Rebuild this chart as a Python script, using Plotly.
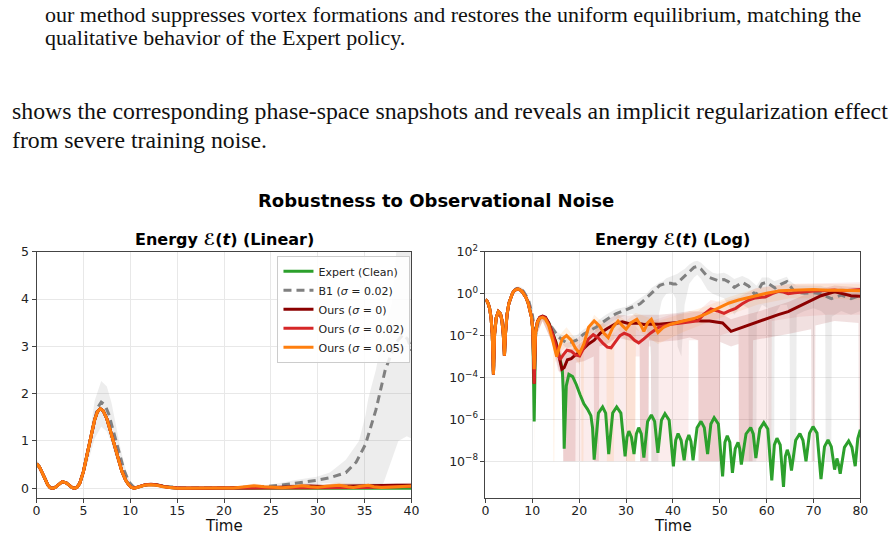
import plotly.graph_objects as go

# ---------------- data ----------------
# shared early transient (all methods identical until t ~ 10)
t_early = [0, 0.3, 0.6, 0.9, 1.2, 1.45, 1.7, 1.95, 2.3, 2.75, 3.2, 3.5, 3.8, 4.05, 4.3, 4.6,
           5.0, 5.4, 5.8, 6.2, 6.5, 6.8, 7.1, 7.5, 7.9, 8.3, 8.7, 9.1, 9.5, 9.8, 10.1]
e_early = [0.52, 0.45, 0.33, 0.19, 0.07, 0.012, 1.4e-4, 0.012, 0.07, 0.14, 0.11, 0.055, 0.012, 1.1e-3, 0.015, 0.1,
           0.35, 0.72, 1.1, 1.45, 1.62, 1.68, 1.64, 1.47, 1.2, 0.9, 0.62, 0.36, 0.17, 0.08, 0.02]

# Expert (Clean)
t_expert = [10.4, 10.7, 11.1, 11.6, 12.2, 12.8, 13.5, 14.2, 15.0, 15.7, 16.1, 16.4, 16.6, 16.8, 17.25, 17.8,
            18.6, 19.4, 20.2, 21.0, 21.8, 22.5, 22.85, 23.2, 24.1, 25.0, 25.65, 26.3, 27.15, 28.0, 28.9, 29.8,
            30.2, 30.6, 31.15, 31.7, 32.2, 32.7, 33.25, 33.8, 34.6, 35.4, 36.1, 36.8, 37.55, 38.3, 39.2, 40.1,
            40.6, 41.1, 41.75, 42.4, 42.9, 43.4, 43.85, 44.3, 45.15, 46.0, 46.7, 47.4, 48.1, 48.8, 49.7, 50.6,
            51.1, 51.6, 52.15, 52.7, 53.3, 53.9, 54.25, 54.6, 55.6, 56.6, 57.15, 57.7, 58.55, 59.4, 60.25, 61.1,
            61.65, 62.2, 62.9, 63.6, 64.0, 64.4, 64.85, 65.3, 66.2, 67.1, 67.75, 68.4, 69.15, 69.9, 70.75, 71.6,
            72.35, 73.1, 73.8, 74.5, 74.75, 75.0, 75.35, 75.7, 76.6, 77.5, 78.2, 78.9, 79.45, 80.0]
v_expert = [8e-7, 0.015, 0.045, 0.07, 0.08, 0.07, 0.04, 0.016, 0.005, 1.2e-3, 5e-4, 2.5e-4, 2e-5, 4e-8, 4e-5, 1.4e-4,
            1.1e-4, 4.5e-5, 1.5e-5, 5.5e-6, 3e-6, 1.5e-6, 4e-7, 1.2e-8, 2e-6, 3.9e-6, 2e-6, 2.2e-8, 2e-6, 3.9e-6, 2e-6, 1.7e-8,
            1.4e-7, 2.75e-7, 1.4e-7, 2.2e-8, 2e-7, 4e-7, 2e-7, 1.5e-8, 8e-7, 1.6e-6, 8e-7, 2.5e-8, 9e-7, 1.85e-6, 9e-7, 5.7e-9,
            1e-7, 2.1e-7, 1e-7, 1.1e-8, 9e-8, 1.8e-7, 9e-8, 1.1e-8, 4e-7, 8e-7, 4e-7, 2.2e-8, 6e-7, 1.2e-6, 6e-7, 1.9e-9,
            8e-8, 1.65e-7, 8e-8, 2.8e-9, 4e-8, 8e-8, 4e-8, 6.9e-9, 2e-7, 4e-7, 2e-7, 1.4e-8, 3.5e-7, 7e-7, 3.5e-7, 1.2e-9,
            6e-8, 1.25e-7, 6e-8, 6e-10, 1.7e-8, 3.5e-8, 1.7e-8, 3.6e-9, 1e-7, 2.1e-7, 1e-7, 1e-8, 2.2e-7, 4.5e-7, 2.2e-7, 1.4e-9,
            5e-8, 1.05e-7, 5e-8, 4e-9, 7e-9, 1.35e-8, 7e-9, 2.5e-9, 4.6e-8, 9.3e-8, 4.6e-8, 5.8e-9, 1.2e-7, 3.2e-7]

# B1 (sigma = 0.02)
t_b1 = [0, 0.3, 0.6, 0.9, 1.2, 1.45, 1.7, 1.95, 2.3, 2.75, 3.2, 3.5, 3.8, 4.05, 4.3, 4.6, 5.0, 5.4, 5.8, 6.2,
        6.5, 6.9, 7.3, 7.7, 8.1, 8.5, 8.9, 9.3, 9.7, 10.0, 10.3, 10.5, 10.8, 11.3, 12.0, 12.6, 13.5, 14.5, 15.5,
        16.5, 17.3, 18.5, 19.4, 21.0, 23.6, 25.7, 27.8, 29.9, 31.3, 33.0, 34.1, 35.1, 36.2, 37.2, 38.3, 39.1,
        39.6, 40.0, 40.7, 41.5, 42.5, 43.5, 44.5, 45.2, 46.0, 47.4, 48.5, 49.5, 50.9, 51.8, 53.1, 54.8, 56.2,
        57.6, 59.0, 60.0, 61.8, 63.0, 64.3, 65.2, 66.0, 68.1, 70.0, 71.6, 73.8, 75.9, 78.0, 80.0]
v_b1 = [0.52, 0.45, 0.33, 0.19, 0.07, 0.012, 1.4e-4, 0.012, 0.07, 0.14, 0.11, 0.055, 0.012, 1.1e-3, 0.015, 0.1, 0.35, 0.72, 1.1, 1.48,
        1.7, 1.82, 1.76, 1.57, 1.28, 0.96, 0.66, 0.4, 0.2, 0.1, 0.035, 3e-3, 0.015, 0.05, 0.075, 0.07, 0.04, 0.02, 9e-3,
        6e-3, 4.5e-3, 5e-3, 6e-3, 0.012, 0.025, 0.056, 0.11, 0.166, 0.22, 0.33, 0.55, 0.93, 1.65, 2.5, 3.07, 3.25,
        3.15, 2.93, 2.9, 4.3, 7.2, 12, 18, 20, 15, 6.5, 5, 4.3, 4.8, 3.8, 2.0, 3.5, 2.3,
        0.83, 3.0, 3.5, 1.9, 2.8, 3.8, 2.2, 1.2, 1.05, 1.1, 1.0, 0.58, 0.85, 0.58, 0.83]

# Ours (sigma = 0)
t_ours0 = [10.4, 10.7, 11.1, 11.6, 12.2, 12.8, 13.5, 14.2, 15.0, 15.7, 16.3, 16.8, 17.5, 18.3, 19.2, 20.1, 21.0,
           22.0, 23.2, 24.5, 26.0, 28.0, 29.2, 30.5, 32.4, 33.8, 35.2, 37.0, 38.7, 41.0, 43.6, 46.0, 47.8, 50.6,
           52.4, 54.8, 57.6, 60.4, 62.5, 64.6, 66.5, 68.1, 70.0, 71.6, 73.0, 74.5, 75.5, 76.6, 78.0, 80.0]
v_ours0 = [5e-5, 0.016, 0.048, 0.075, 0.085, 0.075, 0.04, 0.015, 0.005, 1e-3, 2.5e-4, 3e-4, 7e-4, 8e-4, 1.2e-3, 1.6e-3, 2.5e-3,
           4e-3, 6e-3, 0.013, 0.022, 0.039, 0.045, 0.038, 0.04, 0.034, 0.036, 0.035, 0.038, 0.042, 0.056, 0.05, 0.05, 0.04,
           0.016, 0.025, 0.04, 0.066, 0.1, 0.14, 0.22, 0.34, 0.5, 0.8, 1.0, 1.25, 1.1, 0.95, 0.8, 0.75]

# Ours (sigma = 0.02)
t_ours2 = [10.4, 10.7, 11.1, 11.6, 12.2, 12.8, 13.5, 14.3, 15.2, 15.9, 16.6, 17.4, 18.3, 19.2, 20.1, 21.0, 22.0,
           23.0, 24.0, 25.0, 26.0, 26.8, 27.8, 28.7, 29.6, 30.8, 31.8, 32.7, 33.8, 35.2, 37.0, 39.5, 41.8, 44.0,
           45.3, 46.5, 48.1, 49.5, 50.9, 52.0, 53.4, 54.8, 56.2, 57.6, 59.7, 61.2, 62.5, 63.6, 64.6, 66.0, 67.4,
           69.0, 70.2, 71.6, 73.0, 74.5, 75.9, 77.3, 78.7, 80.0]
v_ours2 = [5e-5, 0.015, 0.046, 0.072, 0.08, 0.07, 0.035, 0.012, 2.5e-3, 7e-4, 1.2e-3, 2e-3, 1.8e-3, 1.2e-3, 1.05e-3, 2.5e-3, 7e-3,
           0.011, 8e-3, 4.5e-3, 2.8e-3, 2.6e-3, 5e-3, 0.01, 0.013, 0.01, 6e-3, 4.5e-3, 7e-3, 0.013, 0.025, 0.035, 0.04, 0.045,
           0.05, 0.1, 0.19, 0.15, 0.115, 0.15, 0.2, 0.33, 0.5, 0.63, 0.7, 1.0, 1.3, 1.2, 1.0, 1.1, 1.2,
           1.25, 1.35, 1.4, 1.45, 1.5, 1.35, 1.45, 1.45, 1.6]

# Ours (sigma = 0.05)
t_ours5 = [10.4, 10.7, 11.1, 11.6, 12.2, 12.8, 13.5, 14.2, 14.8, 15.2, 15.7, 16.4, 17.3, 18.3, 19.2, 20.1, 21.0,
           22.0, 23.2, 24.3, 25.3, 26.2, 27.2, 28.3, 29.2, 30.0, 31.0, 32.3, 33.2, 33.8, 34.6, 35.4, 36.0, 36.8,
           38.0, 39.5, 42.2, 44.5, 47.1, 49.5, 52.0, 54.0, 56.0, 58.0, 60.0, 62.9, 65.0, 67.0, 70.0, 73.0, 76.0,
           78.0, 80.0]
v_ours5 = [2.5e-4, 0.014, 0.044, 0.068, 0.075, 0.062, 0.03, 0.008, 1.8e-3, 1e-3, 2.5e-3, 7e-3, 0.01, 6e-3, 2.5e-3, 1.4e-3, 4e-3,
           0.025, 0.05, 0.03, 0.013, 8e-3, 0.025, 0.05, 0.03, 0.02, 0.04, 0.06, 0.03, 0.016, 0.04, 0.06, 0.03, 0.014,
           0.025, 0.035, 0.05, 0.065, 0.11, 0.19, 0.36, 0.5, 0.65, 0.85, 1.05, 1.4, 1.5, 1.5, 1.6, 1.45, 1.45,
           1.4, 1.4]

# shaded spread bands (lower values clipped at 1e-8 as in the log panel)
b1_band_t = [0, 0.3, 0.6, 0.9, 1.2, 1.45, 1.7, 1.95, 2.3, 2.75, 3.2, 3.5, 3.8, 4.05, 4.3, 4.6, 5.0,
             5.5, 6.2, 6.9, 7.5, 8.0, 8.5, 9.0, 9.5, 10.0, 10.5, 11.0, 12.0, 13.5, 15.5, 17.3, 19.4, 21.0,
             23.6, 25.7, 27.8, 29.9, 31.3, 33.0, 34.4, 35.1, 35.3, 35.4, 36.2, 36.9, 37.0, 37.6, 37.9, 38.6,
             39.5, 40.0, 40.6, 41.0, 41.8, 42.5, 43.5, 44.5, 45.2, 46.0, 47.4, 48.5, 49.5, 50.9, 51.8, 53.1,
             54.8, 56.1, 56.2, 57.8, 57.9, 59.0, 60.3, 60.4, 61.6, 61.7, 63.0, 64.3, 64.9, 65.0, 66.3, 66.4,
             68.1, 70.0, 71.6, 72.5, 72.6, 73.8, 73.9, 75.9, 78.0, 80.0]
b1_lo = [0.45, 0.39, 0.28, 0.16, 0.06, 0.01, 1.2e-4, 0.01, 0.06, 0.12, 0.095, 0.047, 0.01, 9e-4, 0.013, 0.085, 0.3,
         0.55, 1.05, 1.3, 1.2, 0.95, 0.6, 0.35, 0.15, 0.05, 1e-3, 0.02, 0.06, 0.03, 6e-3, 2.5e-3, 3.5e-3, 7e-3,
         0.014, 0.03, 0.06, 0.09, 0.11, 0.05, 0.02, 5e-3, 1e-3, 1e-8, 1e-8, 1e-8, 0.1, 0.44, 0.6, 1.0,
         1.1, 1.05, 0.6, 3e-3, 1e-3, 0.3, 3, 6, 8, 5, 1.5, 1.0, 0.8, 0.6, 0.3, 0.1,
         0.3, 0.2, 1e-8, 1e-8, 0.1, 0.3, 0.2, 1e-8, 1e-8, 0.1, 0.3, 0.3, 0.1, 1e-8, 1e-8, 0.1,
         0.15, 0.2, 0.15, 0.1, 1e-8, 1e-8, 0.08, 0.15, 0.1, 0.15]
b1_hi = [0.6, 0.52, 0.38, 0.22, 0.08, 0.014, 1.7e-4, 0.014, 0.08, 0.17, 0.13, 0.065, 0.014, 1.3e-3, 0.018, 0.12, 0.42,
         0.9, 1.85, 2.27, 2.15, 1.8, 1.3, 0.8, 0.4, 0.14, 0.01, 0.05, 0.1, 0.055, 0.014, 8e-3, 0.01, 0.02,
         0.045, 0.1, 0.18, 0.24, 0.33, 0.6, 1.0, 1.55, 1.8, 1.9, 2.5, 3.2, 3.3, 3.7, 3.9, 5.5,
         6.5, 7, 8, 9, 12, 15, 25, 35, 38, 30, 15, 10, 9, 10, 8, 5,
         7, 5, 5, 2.5, 2.5, 6, 6, 6, 4, 4, 5, 6.5, 4, 4, 2.5, 2.5,
         2.5, 2.6, 2.4, 2, 2, 1.3, 1.3, 2, 1.4, 1.8]

o0_band_t = [10.1, 10.8, 12.2, 14.2, 15.7, 16.5, 16.6, 19.2, 19.3, 21.0, 23.1, 23.2, 24.2, 24.3, 26.0, 28.0,
             30.5, 32.9, 33.0, 34.8, 34.9, 37.0, 41.0, 43.6, 45.4, 45.5, 50.0, 50.1, 52.4, 54.0, 54.1, 57.0,
             57.1, 60.4, 64.6, 69.5, 69.6, 70.3, 70.4, 74.5, 79.6, 79.7, 80.0]
o0_lo = [0.015, 0.01, 0.05, 5e-3, 2e-4, 1e-4, 1e-8, 1e-8, 5e-4, 6e-4, 1e-3, 1e-8, 1e-8, 3e-3, 4e-3, 8e-3,
         6e-3, 5e-3, 1e-8, 1e-8, 6e-3, 5e-3, 6e-3, 8e-3, 6e-3, 1e-8, 1e-8, 5e-3, 3e-3, 4e-3, 1e-8, 1e-8,
         6e-3, 8e-3, 0.012, 0.02, 1e-8, 1e-8, 0.03, 0.05, 0.04, 1e-8, 1e-8]
o0_hi = [0.025, 0.025, 0.11, 0.03, 3e-3, 1e-3, 1e-3, 3e-3, 3e-3, 6e-3, 0.015, 0.015, 0.03, 0.03, 0.06, 0.1,
         0.09, 0.1, 0.1, 0.1, 0.1, 0.1, 0.12, 0.15, 0.14, 0.14, 0.12, 0.12, 0.06, 0.08, 0.08, 0.12,
         0.12, 0.2, 0.4, 1.2, 1.2, 1.5, 1.5, 2.5, 2.0, 2.0, 2.0]

o2_band_t = [10.1, 10.8, 12.2, 14.3, 15.5, 16.5, 16.6, 19.0, 23.0, 26.8, 29.6, 31.9, 32.0, 32.9, 33.0, 34.7,
             34.8, 35.3, 35.4, 39.5, 43.3, 43.4, 45.3, 45.4, 48.1, 50.0, 50.1, 54.0, 54.1, 57.6, 61.0, 61.1,
             67.0, 73.0, 80.0]
o2_lo = [0.015, 0.01, 0.05, 4e-3, 2e-4, 2e-4, 1e-8, 1e-8, 1e-8, 1e-8, 1e-8, 1e-8, 1e-3, 1e-3, 1e-8, 1e-8,
         3e-3, 3e-3, 1e-8, 1e-8, 1e-8, 6e-3, 6e-3, 1e-8, 1e-8, 1e-8, 0.01, 0.02, 1e-8, 1e-8, 1e-8, 0.05,
         0.08, 0.1, 0.1]
o2_hi = [0.025, 0.025, 0.1, 0.025, 3e-3, 4e-3, 4e-3, 6e-3, 0.03, 0.01, 0.04, 0.03, 0.03, 0.015, 0.015, 0.04,
         0.04, 0.05, 0.05, 0.1, 0.12, 0.12, 0.15, 0.15, 0.5, 0.4, 0.4, 0.7, 0.7, 1.8, 2.5, 2.5,
         3.0, 3.2, 3.5]

o5_band_t = [10.1, 10.3, 10.4, 10.5, 12.2, 14.4, 14.5, 14.7, 14.8, 16.4, 17.3, 20.1, 20.4, 20.5, 20.9, 21.0,
             23.2, 25.8, 25.9, 27.4, 27.5, 28.3, 29.9, 30.0, 32.0, 32.1, 36.8, 42.2, 47.1, 52.0, 58.0, 65.0,
             72.0, 80.0]
o5_lo = [0.015, 0.005, 1e-8, 0.005, 0.05, 4e-3, 1e-8, 1e-8, 5e-4, 2e-3, 3e-3, 4e-4, 8e-4, 1e-8, 1e-8, 1.5e-3,
         0.02, 4e-3, 1e-8, 1e-8, 0.015, 0.02, 6e-3, 1e-8, 1e-8, 0.02, 4e-3, 0.015, 0.04, 0.1, 0.3, 0.6,
         0.6, 0.5]
o5_hi = [0.025, 0.02, 0.02, 0.02, 0.1, 0.015, 0.015, 0.01, 5e-3, 0.015, 0.025, 4e-3, 6e-3, 6e-3, 0.01, 0.01,
         0.1, 0.03, 0.03, 0.05, 0.05, 0.1, 0.05, 0.05, 0.12, 0.12, 0.05, 0.12, 0.25, 0.7, 1.8, 3.0,
         3.0, 2.8]

series_names = ["Expert (Clean)", "B1 (<i>σ</i> = 0.02)", "Ours (<i>σ</i> = 0)",
                "Ours (<i>σ</i> = 0.02)", "Ours (<i>σ</i> = 0.05)"]
log_tick_vals = [1e2, 1e0, 1e-2, 1e-4, 1e-6, 1e-8]
log_tick_text = ["10<sup>2</sup>", "10<sup>0</sup>", "10<sup>−2</sup>", "10<sup>−4</sup>",
                 "10<sup>−6</sup>", "10<sup>−8</sup>"]

# ---------------- figure ----------------
W, H = 895, 535
fig = go.Figure()
AXES = [("x", "y"), ("x2", "y2")]


def add_band(t, lo, hi, color):
    for xa, ya in AXES:
        fig.add_trace(go.Scatter(x=t, y=lo, xaxis=xa, yaxis=ya, mode="lines",
                                 line=dict(width=0), showlegend=False, hoverinfo="skip"))
        fig.add_trace(go.Scatter(x=t, y=hi, xaxis=xa, yaxis=ya, mode="lines",
                                 line=dict(width=0), fill="tonexty", fillcolor=color,
                                 showlegend=False, hoverinfo="skip"))


def add_line(t, v, name, color, dash="solid"):
    for i, (xa, ya) in enumerate(AXES):
        fig.add_trace(go.Scatter(x=t, y=v, xaxis=xa, yaxis=ya, mode="lines", name=name,
                                 line=dict(color=color, width=3, dash=dash),
                                 legendgroup=name, showlegend=(i == 0)))


add_band(b1_band_t, b1_lo, b1_hi, "rgba(128,128,128,0.14)")
add_band(o0_band_t, o0_lo, o0_hi, "rgba(139,0,0,0.12)")
add_band(o2_band_t, o2_lo, o2_hi, "rgba(214,39,40,0.09)")
add_band(o5_band_t, o5_lo, o5_hi, "rgba(255,127,14,0.10)")

add_line(t_early + t_expert, e_early + v_expert, series_names[0], "#2ca02c")
add_line(t_b1, v_b1, series_names[1], "#808080", dash="8px,5px")
add_line(t_early + t_ours0, e_early + v_ours0, series_names[2], "#8b0000")
add_line(t_early + t_ours2, e_early + v_ours2, series_names[3], "#d62728")
add_line(t_early + t_ours5, e_early + v_ours5, series_names[4], "#ff7f0e")

ydom = [1 - 497 / H, 1 - 247 / H]
common = dict(showline=True, linecolor="#444", linewidth=1, mirror=True,
              ticks="outside", ticklen=4, tickwidth=1, tickcolor="#444",
              showgrid=True, gridcolor="#e8e8e8", gridwidth=1, zeroline=False,
              tickfont=dict(size=12.5, color="#222"))

fig.update_layout(
    width=W, height=H, margin=dict(l=0, r=0, t=0, b=0),
    paper_bgcolor="white", plot_bgcolor="white",
    font=dict(family="DejaVu Sans", color="#111"),
    showlegend=True,
    legend=dict(x=412 / W, xanchor="right", y=1 - 251 / H, yanchor="top",
                bgcolor="rgba(255,255,255,0.85)", bordercolor="#cccccc", borderwidth=1,
                font=dict(size=11, color="#222"), tracegroupgap=0, itemwidth=30),
    xaxis=dict(domain=[33 / W, 413 / W], range=[0, 40], dtick=5, anchor="y",
               ticklabelstandoff=-3, **common),
    yaxis=dict(domain=ydom, range=[-0.2, 5], dtick=1, anchor="x", **common),
    xaxis2=dict(domain=[488 / W, 868 / W], range=[0, 80], dtick=10, anchor="y2",
                ticklabelstandoff=-3, **common),
    yaxis2=dict(domain=ydom, type="log", range=[-9.74, 2], anchor="x2",
                tickmode="array", tickvals=log_tick_vals, ticktext=log_tick_text, **common),
)

ann = [
    dict(text="<b>Robustness to Observational Noise</b>", x=438 / W, y=1 - 195 / H,
         font=dict(size=18, family="DejaVu Sans", color="#000")),
    dict(text="<b>Energy <i>ℰ</i>(<i>t</i>) (Linear)</b>", x=223 / W, y=1 - 234 / H,
         font=dict(size=16, family="DejaVu Sans", color="#000")),
    dict(text="<b>Energy <i>ℰ</i>(<i>t</i>) (Log)</b>", x=678 / W, y=1 - 234 / H,
         font=dict(size=16, family="DejaVu Sans", color="#000")),
    dict(text="Time", x=223 / W, y=1 - 526 / H, font=dict(size=15, family="DejaVu Sans", color="#111")),
    dict(text="Time", x=678 / W, y=1 - 526 / H, font=dict(size=15, family="DejaVu Sans", color="#111")),
]
for a in ann:
    fig.add_annotation(xref="paper", yref="paper", showarrow=False,
                       xanchor="center", yanchor="middle", **a)

paper_lines = [
    ("our method suppresses vortex formations and restores the uniform equilibrium, matching the", 40, 6, 22),
    ("qualitative behavior of the Expert policy.", 40, 29, 22),
    ("shows the corresponding phase-space snapshots and reveals an implicit regularization effect", 6, 104, 23.8),
    ("from severe training noise.", 6, 133, 23.8),
]
for txt, px, py, fs in paper_lines:
    fig.add_annotation(xref="paper", yref="paper", showarrow=False, text=txt,
                       x=px / W, y=1 - py / H, xanchor="left", yanchor="middle",
                       font=dict(size=fs, family="Liberation Serif", color="#111"))

fig.write_html("out.html")
